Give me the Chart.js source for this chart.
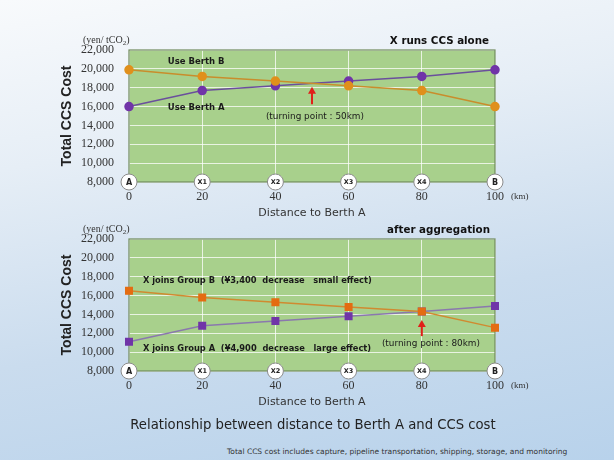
<!DOCTYPE html>
<html lang="en">
<head>
<meta charset="UTF-8" />
<title>CCS cost and distance to Berth A</title>
<script src="https://cdn.jsdelivr.net/npm/chart.js@4/dist/chart.umd.min.js"></script>
<style>
  * { margin: 0; padding: 0; }
  body {
    width: 614px; height: 460px; overflow: hidden; position: relative;
    background: linear-gradient(170deg, #f8fafc 0%, #e6eef6 30%, #cadcee 65%, #b8d2eb 100%);
    font-family: "DejaVu Sans", sans-serif;
  }
  .box { position: absolute; left: 0; width: 614px; height: 225px; }
  #box1 { top: 0; }
  #box2 { top: 189px; }
  .title {
    position: absolute; top: 415px; left: 12px; width: 602px; text-align: center;
    font: 14.7px "DejaVu Sans Condensed", "DejaVu Sans", sans-serif; color: #222;
  }
  .note {
    position: absolute; top: 447px; left: 227px;
    font: 7.5px "DejaVu Sans", sans-serif; color: #333; white-space: nowrap;
  }
</style>
</head>
<body>
  <div class="box" id="box1"><canvas id="chart1"></canvas></div>
  <div class="box" id="box2"><canvas id="chart2"></canvas></div>
  <div class="title">Relationship between distance to Berth A and CCS cost</div>
  <div class="note">Total CCS cost includes capture, pipeline transportation, shipping, storage, and monitoring</div>

<script>
  // distance to Berth A (km) and the point names on the axis
  const distances = [0, 20, 40, 60, 80, 100];
  const pointNames = ["A", "X1", "X2", "X3", "X4", "B"];

  // X runs CCS alone (yen / tCO2)
  const aloneBerthB = [19900, 19200, 18700, 18200, 17700, 16000];
  const aloneBerthA = [16000, 17700, 18200, 18700, 19200, 19900];

  // after aggregation (yen / tCO2)
  const groupB = [16500, 15800, 15300, 14800, 14300, 12600];
  const groupA = [11100, 12800, 13300, 13800, 14300, 14900];

  const yMin = 8000, yMax = 22000, yStep = 2000;

  const toXY = (vals) => vals.map((v, i) => ({ x: distances[i], y: v }));

  // draws the green plot, axis names, circled point names and notes
  const decor = {
    id: 'decor',
    beforeDraw(chart) {
      const { ctx, chartArea: a } = chart;
      ctx.save();
      ctx.fillStyle = '#a8d08c';
      ctx.fillRect(a.left, a.top, a.right - a.left, a.bottom - a.top);
      ctx.restore();
    },
    beforeDatasetsDraw(chart) {
      const { ctx, chartArea: a } = chart;
      ctx.save();
      ctx.strokeStyle = '#6f8a5c';
      ctx.lineWidth = 1.2;
      ctx.strokeRect(a.left, a.top, a.right - a.left, a.bottom - a.top);
      ctx.restore();
    },
    afterDraw(chart, args, o) {
      const { ctx, chartArea: a, scales } = chart;
      const sx = scales.x, sy = scales.y;
      ctx.save();

      // y axis title
      ctx.translate(67, (a.top + a.bottom) / 2);
      ctx.rotate(-Math.PI / 2);
      ctx.font = 'bold 14px "Liberation Sans", Arial, sans-serif';
      ctx.fillStyle = '#222';
      ctx.textAlign = 'center';
      ctx.textBaseline = 'middle';
      ctx.fillText('Total CCS Cost', 0, 0);
      ctx.restore();
      ctx.save();

      // unit (yen/ tCO2)
      ctx.fillStyle = '#333';
      ctx.textBaseline = 'alphabetic';
      ctx.textAlign = 'left';
      ctx.font = '10px "Liberation Serif", serif';
      let ux = 83;
      const uy = a.top - 7;
      ctx.fillText('(yen/ tCO', ux, uy);
      ux += ctx.measureText('(yen/ tCO').width;
      ctx.font = '7px "Liberation Serif", serif';
      ctx.fillText('2', ux, uy + 2);
      ux += ctx.measureText('2').width;
      ctx.font = '10px "Liberation Serif", serif';
      ctx.fillText(')', ux, uy);

      // panel heading
      ctx.font = 'bold 10.3px "DejaVu Sans", sans-serif';
      ctx.fillStyle = '#111';
      ctx.textAlign = 'right';
      ctx.fillText(o.heading, o.headingRight, a.top - 6);

      // x axis title and unit
      ctx.textAlign = 'center';
      ctx.font = '11px "DejaVu Sans", sans-serif';
      ctx.fillStyle = '#333';
      ctx.fillText('Distance to Berth A', (a.left + a.right) / 2, a.bottom + 34);
      ctx.textAlign = 'left';
      ctx.font = '9px "Liberation Serif", serif';
      ctx.fillText('(km)', a.right + 16, a.bottom + 17);

      // circled point names on the axis
      distances.forEach((d, i) => {
        const px = sx.getPixelForValue(d);
        ctx.beginPath();
        ctx.arc(px, a.bottom, 8, 0, Math.PI * 2);
        ctx.fillStyle = '#ffffff';
        ctx.fill();
        ctx.strokeStyle = '#8a8a8a';
        ctx.lineWidth = 1;
        ctx.stroke();
        ctx.fillStyle = '#222';
        ctx.font = 'bold ' + (pointNames[i].length > 1 ? 6.5 : 8) + 'px "DejaVu Sans", sans-serif';
        ctx.textAlign = 'center';
        ctx.textBaseline = 'middle';
        ctx.fillText(pointNames[i], px, a.bottom + 0.5);
      });

      // notes inside the plot
      ctx.textBaseline = 'middle';
      ctx.textAlign = 'left';
      o.notes.forEach(n => {
        ctx.font = n.font;
        ctx.fillStyle = '#1a1a1a';
        ctx.fillText(n.text, sx.getPixelForValue(n.x), sy.getPixelForValue(n.y));
      });

      // red arrow at the turning point
      const ax = sx.getPixelForValue(o.arrow.x);
      const y0 = sy.getPixelForValue(o.arrow.from);
      const y1 = sy.getPixelForValue(o.arrow.to);
      ctx.strokeStyle = '#e0201a';
      ctx.fillStyle = '#e0201a';
      ctx.lineWidth = 2;
      ctx.beginPath();
      ctx.moveTo(ax, y0);
      ctx.lineTo(ax, y1 + 5);
      ctx.stroke();
      ctx.beginPath();
      ctx.moveTo(ax, y1);
      ctx.lineTo(ax - 4, y1 + 7);
      ctx.lineTo(ax + 4, y1 + 7);
      ctx.closePath();
      ctx.fill();

      ctx.restore();
    }
  };

  const makeOptions = (extra) => ({
    responsive: true,
    maintainAspectRatio: false,
    animation: false,
    layout: { padding: { top: 50, right: 119, left: 0, bottom: 0 } },
    plugins: {
      legend: { display: false },
      tooltip: { enabled: false },
      decor: extra
    },
    scales: {
      x: {
        type: 'linear', min: 0, max: 100,
        afterFit: (s) => { s.height = 43; },
        ticks: {
          stepSize: 20, padding: 8, color: '#333',
          font: { family: '"Liberation Serif", serif', size: 12 }
        },
        grid: { color: 'rgba(255,255,255,0.75)', lineWidth: 1, drawTicks: false },
        border: { display: false }
      },
      y: {
        min: yMin, max: yMax,
        afterFit: (s) => { s.width = 129; },
        ticks: {
          stepSize: yStep, padding: 15, color: '#333',
          font: { family: '"Liberation Serif", serif', size: 12 },
          callback: (v) => v.toLocaleString('en-US')
        },
        grid: { color: 'rgba(255,255,255,0.75)', lineWidth: 1, drawTicks: false },
        border: { display: false }
      }
    }
  });

  const noteBold = 'bold 8.5px "DejaVu Sans", sans-serif';
  const notePlain = '8.9px "DejaVu Sans", sans-serif';
  const groupFont = 'bold 8.3px "DejaVu Sans", sans-serif';

  new Chart(document.getElementById('chart1'), {
    type: 'line',
    data: {
      datasets: [
        {
          label: 'Use Berth B', data: toXY(aloneBerthB), clip: false,
          borderColor: '#c98d2c', borderWidth: 1.5,
          pointStyle: 'circle', pointRadius: 4,
          pointBackgroundColor: '#e0901c', pointBorderColor: '#e0901c'
        },
        {
          label: 'Use Berth A', data: toXY(aloneBerthA), clip: false,
          borderColor: '#6a4f9c', borderWidth: 1.5,
          pointStyle: 'circle', pointRadius: 4,
          pointBackgroundColor: '#7034a8', pointBorderColor: '#7034a8'
        }
      ]
    },
    options: makeOptions({
      heading: 'X runs CCS alone', headingRight: 489,
      notes: [
        { text: 'Use Berth B', x: 10.6, y: 20750, font: noteBold },
        { text: 'Use Berth A', x: 10.6, y: 15850, font: noteBold },
        { text: '(turning point : 50km)', x: 37.4, y: 14900, font: notePlain }
      ],
      arrow: { x: 50, from: 16250, to: 18100 }
    }),
    plugins: [decor]
  });

  new Chart(document.getElementById('chart2'), {
    type: 'line',
    data: {
      datasets: [
        {
          label: 'X joins Group B', data: toXY(groupB), clip: false,
          borderColor: '#d08a30', borderWidth: 1.5,
          pointStyle: 'rect', pointRadius: 4.6,
          pointBackgroundColor: '#e46c12', pointBorderColor: '#e46c12'
        },
        {
          label: 'X joins Group A', data: toXY(groupA), clip: false,
          borderColor: '#8a78ae', borderWidth: 1.5,
          pointStyle: 'rect', pointRadius: 4.6,
          pointBackgroundColor: '#7034a8', pointBorderColor: '#7034a8'
        }
      ]
    },
    options: makeOptions({
      heading: 'after aggregation', headingRight: 490,
      notes: [
        { text: 'X joins Group B  (¥3,400  decrease   small effect)', x: 3.8, y: 17580, font: groupFont },
        { text: 'X joins Group A  (¥4,900  decrease   large effect)', x: 3.8, y: 10330, font: groupFont },
        { text: '(turning point : 80km)', x: 69.1, y: 10860, font: notePlain }
      ],
      arrow: { x: 80, from: 11700, to: 13400 }
    }),
    plugins: [decor]
  });
</script>
</body>
</html>
